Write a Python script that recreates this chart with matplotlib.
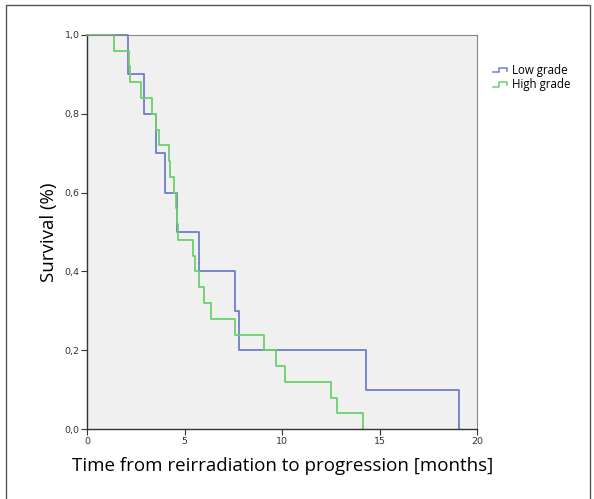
import matplotlib
matplotlib.use("Agg")
import matplotlib.pyplot as plt
from matplotlib.legend_handler import HandlerBase
from matplotlib.lines import Line2D
from matplotlib.patches import Rectangle

# event times (months), each drop is one patient
low_times = [2.07, 2.92, 3.5, 3.97, 4.6, 5.74, 7.6, 7.8, 14.3, 19.1]
high_times = [1.38, 2.14, 2.19, 2.75, 3.33, 3.5, 3.69, 4.2, 4.24, 4.46,
              4.55, 4.6, 4.68, 5.44, 5.52, 5.74, 5.98, 6.33, 7.59, 9.05,
              9.68, 10.17, 12.53, 12.8, 14.14]
labels = ["Low grade", "High grade"]
colors = ["#6f7fc6", "#6ccf6c"]
yticks = [0.0, 0.2, 0.4, 0.6, 0.8, 1.0]
xticks = [0, 5, 10, 15, 20]


def km_curve(times):
    n = len(times)
    x = [0.0] + list(times)
    y = [1.0] + [1.0 - (i + 1) / n for i in range(n)]
    return x, y


class StepHandler(HandlerBase):
    def create_artists(self, legend, orig_handle, xdescent, ydescent,
                       width, height, fontsize, trans):
        w, h = width, height
        xs = [0, 0.4 * w, 0.4 * w, 0.9 * w, 0.9 * w]
        ys = [0.2 * h, 0.2 * h, 0.75 * h, 0.75 * h, 0.4 * h]
        line = Line2D(xs, ys, color=orig_handle.get_color(), lw=1.1,
                      transform=trans)
        return [line]


fam = ["Open Sans", "DejaVu Sans"]
fig = plt.figure(figsize=(5.94, 4.99), dpi=100)
ax = fig.add_axes([0.147, 0.140, 0.656, 0.790])
ax.set_facecolor("#f0f0f0")

handles = []
for times, lab, col in zip([low_times, high_times], labels, colors):
    x, y = km_curve(times)
    h, = ax.step(x, y, where="post", color=col, lw=1.3, label=lab,
                 clip_on=False)
    handles.append(h)

ax.set_xlim(0, 20)
ax.set_ylim(0, 1.0)
ax.set_xticks(xticks)
ax.set_yticks(yticks)
ax.set_yticklabels([f"{v:.1f}".replace(".", ",") for v in yticks])
ax.tick_params(labelsize=6.8, colors="#333333", length=4, width=0.8,
               pad=1.5)
for side in ["top", "right"]:
    ax.spines[side].set_color("#888888")
    ax.spines[side].set_linewidth(0.8)
for side in ["left", "bottom"]:
    ax.spines[side].set_color("#333333")
    ax.spines[side].set_linewidth(1.0)

ax.set_xlabel("Time from reirradiation to progression [months]",
              fontsize=13.5, family=fam, labelpad=8)
ax.set_ylabel("Survival (%)", fontsize=13.5, family=fam, labelpad=5)

fig.legend(handles, labels, handler_map={Line2D: StepHandler()},
           loc="upper left", bbox_to_anchor=(0.812, 0.893),
           frameon=False, handlelength=1.4, handletextpad=0.3,
           labelspacing=0.15, prop={"family": fam, "size": 8.3})

fig.patches.append(Rectangle((6 / 594, -0.01), 584 / 594, 1.01 - 5 / 499,
                             transform=fig.transFigure, fill=False,
                             edgecolor="#555555", lw=1.0))

fig.savefig("out.png", dpi=100)
